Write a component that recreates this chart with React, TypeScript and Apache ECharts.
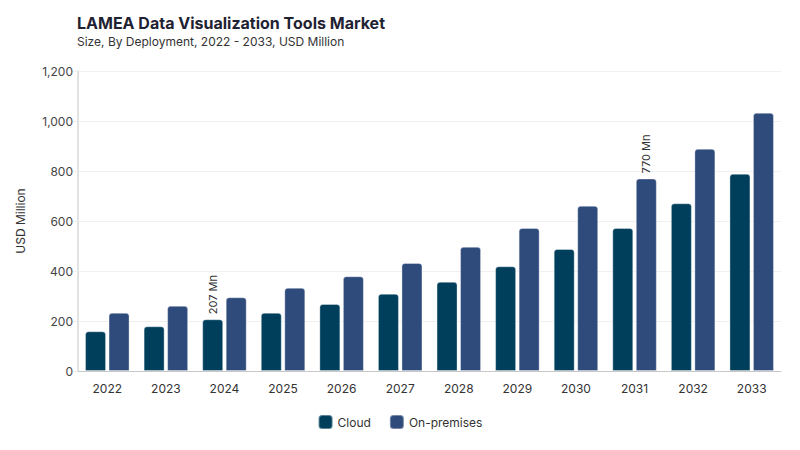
import React, { useEffect, useRef } from "react";
import * as echarts from "echarts";

const years = ["2022", "2023", "2024", "2025", "2026", "2027", "2028", "2029", "2030", "2031", "2032", "2033"];
const cloud = [159, 179, 207, 233, 268, 309, 357, 419, 488, 572, 671, 789];
const onPremises = [233, 261, 295, 333, 379, 432, 497, 572, 661, 770, 889, 1033];
const cloudLabelIndex = 2;
const onPremLabelIndex = 9;
const yTicks = { min: 0, max: 1200, interval: 200 };

const FONT = "Inter, 'Noto Sans', sans-serif";

export default function App() {
  const ref = useRef<HTMLDivElement>(null);
  useEffect(() => {
    if (!ref.current) return;
    const chart = echarts.init(ref.current, undefined, { renderer: "svg" });
    const labelCfg = {
      show: true,
      position: "top",
      rotate: 90,
      align: "left",
      verticalAlign: "middle",
      distance: 5,
      fontSize: 11,
      color: "#333",
      fontFamily: FONT,
      formatter: (p: any) => `${p.value} Mn`,
    };
    const mk = (arr: number[], idx: number) =>
      arr.map((v, i) => (i === idx ? { value: v, label: labelCfg } : v));
    chart.setOption({
      animation: false,
      backgroundColor: "#ffffff",
      textStyle: { fontFamily: FONT },
      title: {
        text: "LAMEA Data Visualization Tools Market",
        subtext: "Size, By Deployment, 2022 - 2033, USD Million",
        left: 72,
        top: 10,
        itemGap: 4,
        textStyle: { fontSize: 16, fontWeight: "bold", color: "#1f2233", fontFamily: FONT },
        subtextStyle: { fontSize: 12, color: "#333", fontFamily: FONT },
      },
      legend: {
        bottom: 15,
        left: "center",
        icon: "roundRect",
        itemWidth: 14,
        itemHeight: 14,
        itemGap: 18,
        textStyle: { fontSize: 12, color: "#333", fontFamily: FONT },
        data: ["Cloud", "On-premises"],
      },
      grid: { left: 78, right: 19, top: 71, bottom: 79, containLabel: false },
      xAxis: {
        type: "category",
        data: years,
        axisLine: { lineStyle: { color: "#c8c8c8" } },
        axisTick: { show: false },
        axisLabel: { fontSize: 12, color: "#333", margin: 11, fontFamily: FONT },
      },
      yAxis: {
        type: "value",
        min: yTicks.min,
        max: yTicks.max,
        interval: yTicks.interval,
        name: "USD Million",
        nameLocation: "middle",
        nameGap: 52,
        nameTextStyle: { fontSize: 12, color: "#333", fontFamily: FONT },
        axisLine: { show: true, lineStyle: { color: "#e2e2e2", width: 2 } },
        axisTick: { show: true, length: 6, lineStyle: { color: "#eeeeee" } },
        axisLabel: {
          fontSize: 12,
          color: "#444",
          margin: 5,
          fontFamily: FONT,
          formatter: (v: number) => v.toLocaleString("en-US"),
        },
        splitLine: { lineStyle: { color: "#f0f0f0" } },
      },
      series: [
        {
          name: "Cloud",
          type: "bar",
          data: mk(cloud, cloudLabelIndex),
          barWidth: 21,
          barGap: "12%",
          itemStyle: { color: "#003f5c", borderRadius: [3, 3, 0, 0], borderColor: "rgba(255,255,255,0.35)", borderWidth: 1 },
        },
        {
          name: "On-premises",
          type: "bar",
          data: mk(onPremises, onPremLabelIndex),
          barWidth: 21,
          itemStyle: { color: "#2f4b7c", borderRadius: [3, 3, 0, 0], borderColor: "rgba(255,255,255,0.35)", borderWidth: 1 },
        },
      ],
    });
    return () => chart.dispose();
  }, []);
  return <div ref={ref} style={{ width: 800, height: 450, position: "absolute", left: 0, top: 0 }} />;
}
